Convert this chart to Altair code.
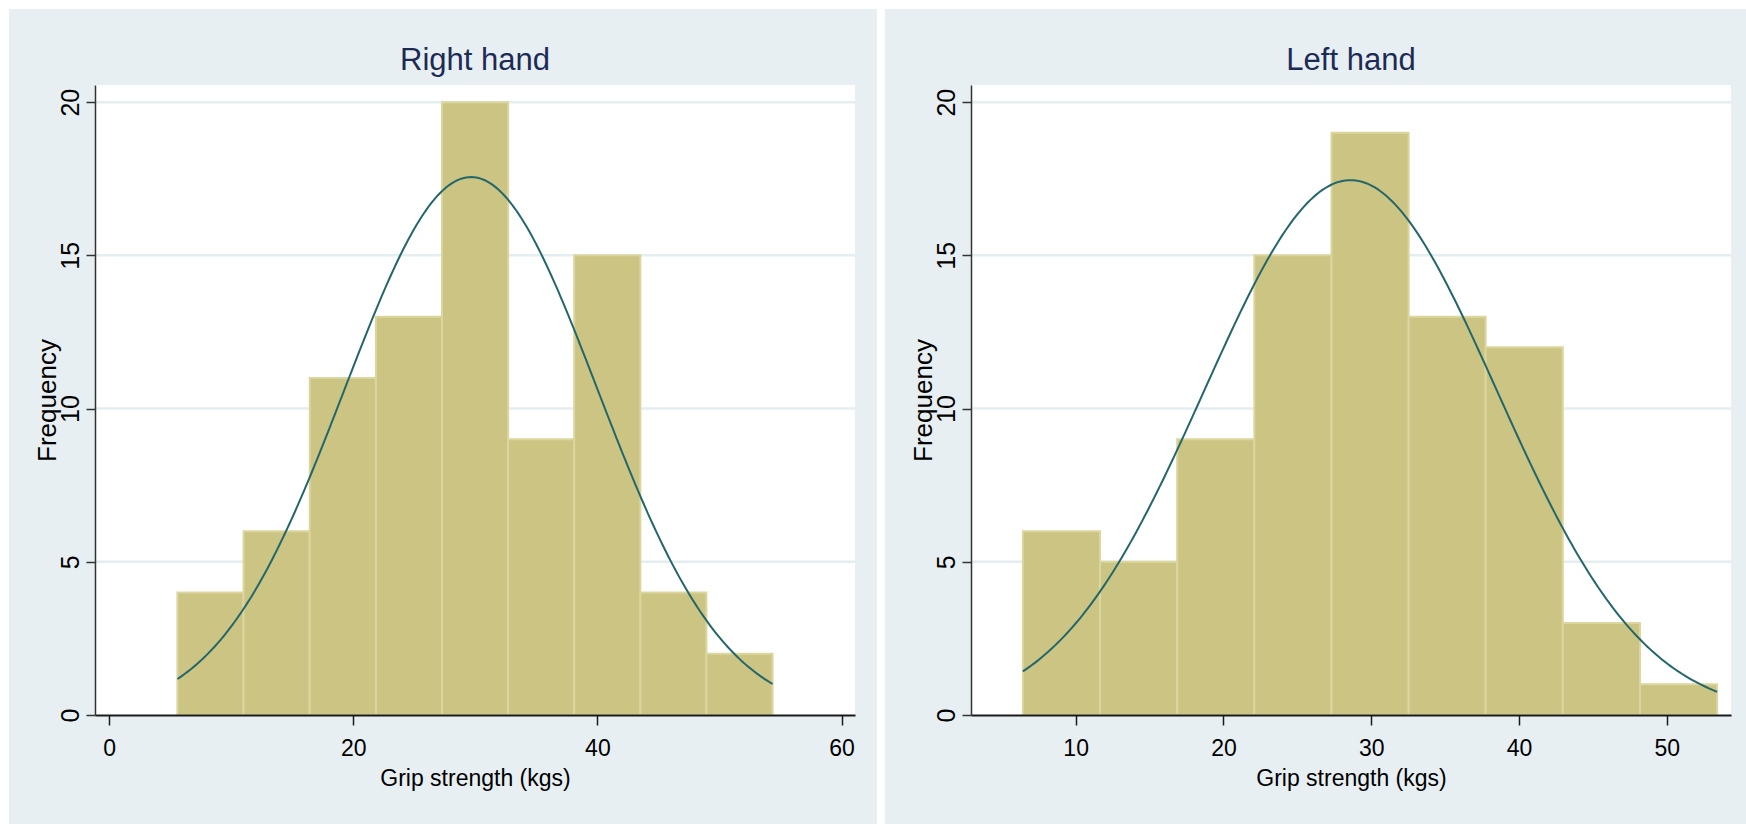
import altair as alt
import pandas as pd
import numpy as np

# ---------------- data ----------------
right_edges = [5.6, 11.02, 16.44, 21.86, 27.27, 32.69, 38.1, 43.52, 48.93, 54.35]
right_counts = [4, 6, 11, 13, 20, 9, 15, 4, 2]
right_mean, right_sd = 29.65, 10.34

left_edges = [6.43, 11.65, 16.87, 22.09, 27.31, 32.53, 37.74, 42.96, 48.18, 53.40]
left_counts = [6, 5, 9, 15, 19, 13, 12, 3, 1]
left_mean, left_sd = 28.6, 9.90

right_xticks = [0, 20, 40, 60]
left_xticks = [10, 20, 30, 40, 50]
y_ticks = [0, 5, 10, 15, 20]
grid_vals = [5, 10, 15, 20]

# ---------------- style ----------------
FONT = "Liberation Sans Narrow, Liberation Sans, Arial, sans-serif"
REG = "Liberation Sans, Arial, sans-serif"
BG = "#e8eff2"
BAR = "#ccc483"
BAR_EDGE = "#dbd69f"
CURVE = "#24676a"
GRID = "#e4edf0"
W, H = 760, 630
YDOM = [0, 20.56]


def strip(x1, x2, y1, y2, color="white"):
    return alt.Chart(alt.Data(values=[{}])).mark_rect(color=color).encode(
        x=alt.value(x1), x2=alt.value(x2), y=alt.value(y1), y2=alt.value(y2)
    )


def title_text(text):
    return alt.Chart(alt.Data(values=[{}])).mark_text(
        font=FONT, fontSize=31, color="#1c2b55", align="center",
        baseline="alphabetic",
    ).encode(x=alt.value(W / 2), y=alt.value(-15), text=alt.value(text))


def panel(edges, counts, mean, sd, xdomain, xticks, title, strips):
    bars = pd.DataFrame({
        "lo": edges[:-1],
        "hi": edges[1:],
        "count": counts,
    })
    n = sum(counts)
    width = (edges[-1] - edges[0]) / len(counts)
    xs = np.linspace(edges[0], edges[-1], 240)
    ys = n * width * np.exp(-0.5 * ((xs - mean) / sd) ** 2) / (sd * np.sqrt(2 * np.pi))
    curve = pd.DataFrame({"x": xs, "y": ys})
    grid = pd.DataFrame({"g": grid_vals})

    xscale = alt.Scale(domain=xdomain, nice=False, zero=False)
    yscale = alt.Scale(domain=YDOM, nice=False, zero=False)

    xaxis = alt.Axis(
        values=xticks, format="d", title="Grip strength (kgs)", grid=False,
        domainColor="#1a1a1a", domainWidth=2, tickColor="#1a1a1a", tickWidth=1.5,
        tickSize=10, labelFont=FONT, labelFontSize=23, labelColor="black",
        labelPadding=12, labelFlush=False,
        titleFont=FONT, titleFontSize=23, titleFontWeight="normal", titleColor="black",
        titleX=W / 2, titleY=70, titleBaseline="alphabetic", titleAlign="center",
        zindex=1,
    )
    yaxis = alt.Axis(
        values=y_ticks, title="Frequency", grid=False,
        domainColor="#333333", domainWidth=1.5, tickColor="#333333", tickWidth=1.5,
        tickSize=9, labelFont=REG, labelFontSize=25, labelColor="black",
        labelAngle=270, labelAlign="center", labelBaseline="alphabetic",
        labelPadding=8, labelFlush=False,
        titleFont=REG, titleFontSize=26, titleFontWeight="normal", titleColor="black",
        titleAngle=270, titleX=-40, titleY=H / 2, titleBaseline="alphabetic",
        titleAlign="center",
        zindex=1,
    )

    grid_layer = alt.Chart(grid).mark_rule(color=GRID, strokeWidth=2.5).encode(
        y=alt.Y("g:Q", scale=yscale, axis=yaxis),
        x=alt.value(0), x2=alt.value(W),
    )
    bar_layer = alt.Chart(bars).mark_rect(
        color=BAR, stroke=BAR_EDGE, strokeWidth=2
    ).encode(
        x=alt.X("lo:Q", scale=xscale, axis=xaxis),
        x2="hi:Q",
        y=alt.Y("count:Q", scale=yscale),
        y2=alt.datum(0),
    )
    curve_layer = alt.Chart(curve).mark_line(color=CURVE, strokeWidth=2).encode(
        x=alt.X("x:Q", scale=xscale),
        y=alt.Y("y:Q", scale=yscale),
    )
    layers = strips + [title_text(title), grid_layer, bar_layer, curve_layer]
    return alt.layer(*layers).properties(width=W, height=H)


left_strips = [
    strip(-95, 790, -85, -76),
    strip(-95, -86, -85, 739),
    strip(782, 790, -85, 739),
]
right_strips = [
    strip(-86, 775, -85, -76),
    strip(-86, 775, 738, 739, color=BG),
]

p1 = panel(right_edges, right_counts, right_mean, right_sd, [-1.15, 61.1],
           right_xticks, "Right hand", left_strips)
p2 = panel(left_edges, left_counts, left_mean, left_sd, [2.92, 54.34],
           left_xticks, "Left hand", right_strips)

chart = alt.hconcat(p1, p2, spacing=0).properties(
    background=BG, padding=0
).configure_view(stroke=None, fill="white").resolve_scale(x="independent")

chart.save("out.html", embed_options={"renderer": "svg", "actions": False})
